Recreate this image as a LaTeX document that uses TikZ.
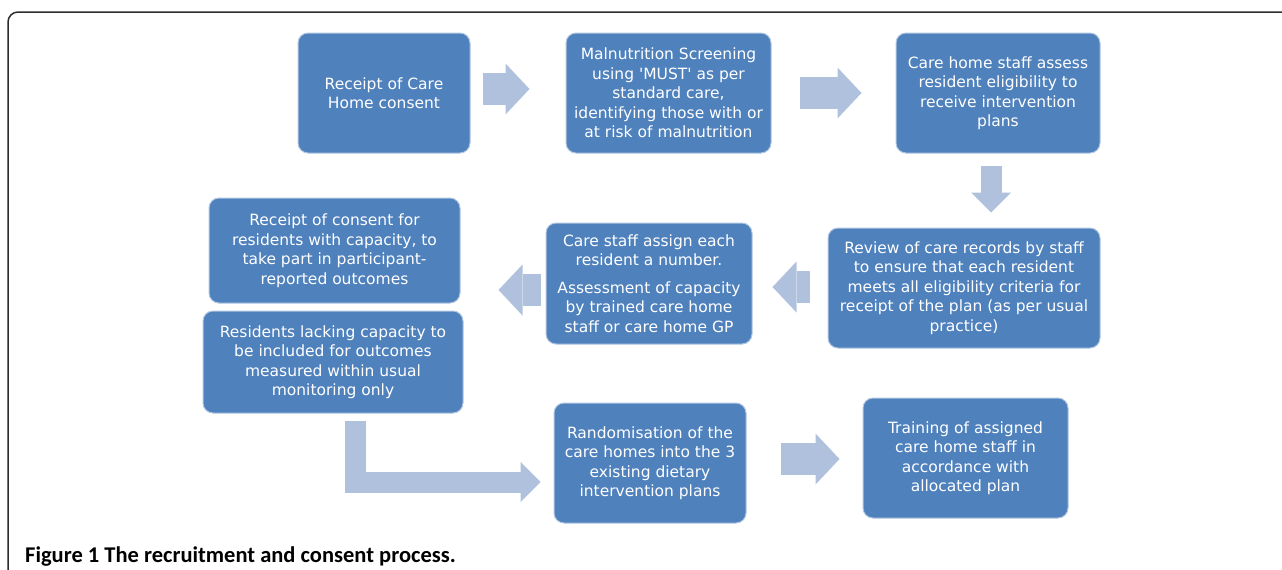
\documentclass[tikz,border=0pt]{standalone}
\usepackage{fontspec}
\newfontfamily\boxfont{DejaVu Sans}
\newfontfamily\capfont{Carlito}
\usetikzlibrary{arrows.meta}
\definecolor{boxblue}{RGB}{79,129,189}
\definecolor{arrowblue}{RGB}{176,193,221}
\definecolor{framegray}{RGB}{45,45,45}

\begin{document}
\begin{tikzpicture}[x=1pt,y=-1pt,
    stepbox/.style={rectangle,rounded corners=10pt,fill=boxblue,draw=white!55!boxblue,line width=1pt,
      text=white,align=center,inner sep=0pt,font=\boxfont\fontsize{15.5}{19.5}\selectfont},
    fatarrow/.style={draw=arrowblue,line width=32pt,-{Triangle[length=24pt,width=51pt,line width=0pt]}},
    thinarrow/.style={draw=arrowblue,line width=21pt,line join=miter,-{Triangle[length=20pt,width=40pt,line width=0pt]}}]
  \useasboundingbox (0,0) rectangle (1282,570);
  \draw[framegray,line width=1.5pt,rounded corners=10pt] (8,570) -- (8,12) -- (1282,12);

  % top row
  \node[stepbox,minimum width=172pt,minimum height=120pt] (recv) at (384,93) {Receipt of Care\\Home consent};
  \node[stepbox,minimum width=205pt,minimum height=120pt] (screen) at (668.5,93)
    {Malnutrition Screening\\using 'MUST' as per\\standard care,\\identifying those with or\\at risk of malnutrition};
  \node[stepbox,minimum width=204pt,minimum height=120pt] (eligible) at (998,93)
    {Care home staff assess\\resident eligibility to\\receive intervention\\plans};

  % middle row
  \node[stepbox,minimum width=272pt,minimum height=120pt] (review) at (964,288)
    {Review of care records by staff\\to ensure that each resident\\meets all eligibility criteria for\\receipt of the plan (as per usual\\practice)};
  \node[stepbox,minimum width=206pt,minimum height=121pt] (assess) at (649,283.5)
    {Care staff assign each\\resident a number.\\[8pt]Assessment of capacity\\by trained care home\\staff or care home GP};
  \node[stepbox,minimum width=251pt,minimum height=105pt] (consent) at (334.5,250.5)
    {Receipt of consent for\\residents with capacity, to\\take part in participant-\\reported outcomes};
  \node[stepbox,minimum width=260pt,minimum height=102pt] (lacking) at (333,362)
    {Residents lacking capacity to\\be included for outcomes\\measured within usual\\monitoring only};

  % bottom row
  \node[stepbox,minimum width=192pt,minimum height=120pt] (random) at (650,463)
    {Randomisation of the\\care homes into the 3\\existing dietary\\intervention plans};
  \node[stepbox,minimum width=205pt,minimum height=120pt] (training) at (965.5,458)
    {Training of assigned\\care home staff in\\accordance with\\allocated plan};

  \draw[fatarrow] ([xshift=12pt,yshift=4pt]recv.east) -- ([xshift=-36pt,yshift=4pt]screen.west);
  \draw[fatarrow] ([xshift=28pt]screen.east) -- ([xshift=-34pt]eligible.west);
  \draw[thinarrow] ([xshift=-7pt,yshift=-12pt]eligible.south) -- ++(0,47);
  \draw[fatarrow] ([xshift=-18pt,yshift=1pt]review.west) -- ++(-37,0);
  \draw[fatarrow] ([xshift=-5pt,yshift=-6.5pt]assess.west) -- ++(-42,0);
  \draw[thinarrow] ([xshift=22pt,yshift=-7pt]lacking.south) |- ([xshift=-13pt,yshift=-19pt]random.west);
  \draw[fatarrow] ([xshift=34pt,yshift=4pt]random.east) -- ++(59,0);

  \node[anchor=base west,inner sep=0pt,font=\capfont\bfseries\fontsize{22.5}{27}\selectfont] (caption) at (25,562)
    {Figure 1 The recruitment and consent process.};
\end{tikzpicture}
\end{document}
